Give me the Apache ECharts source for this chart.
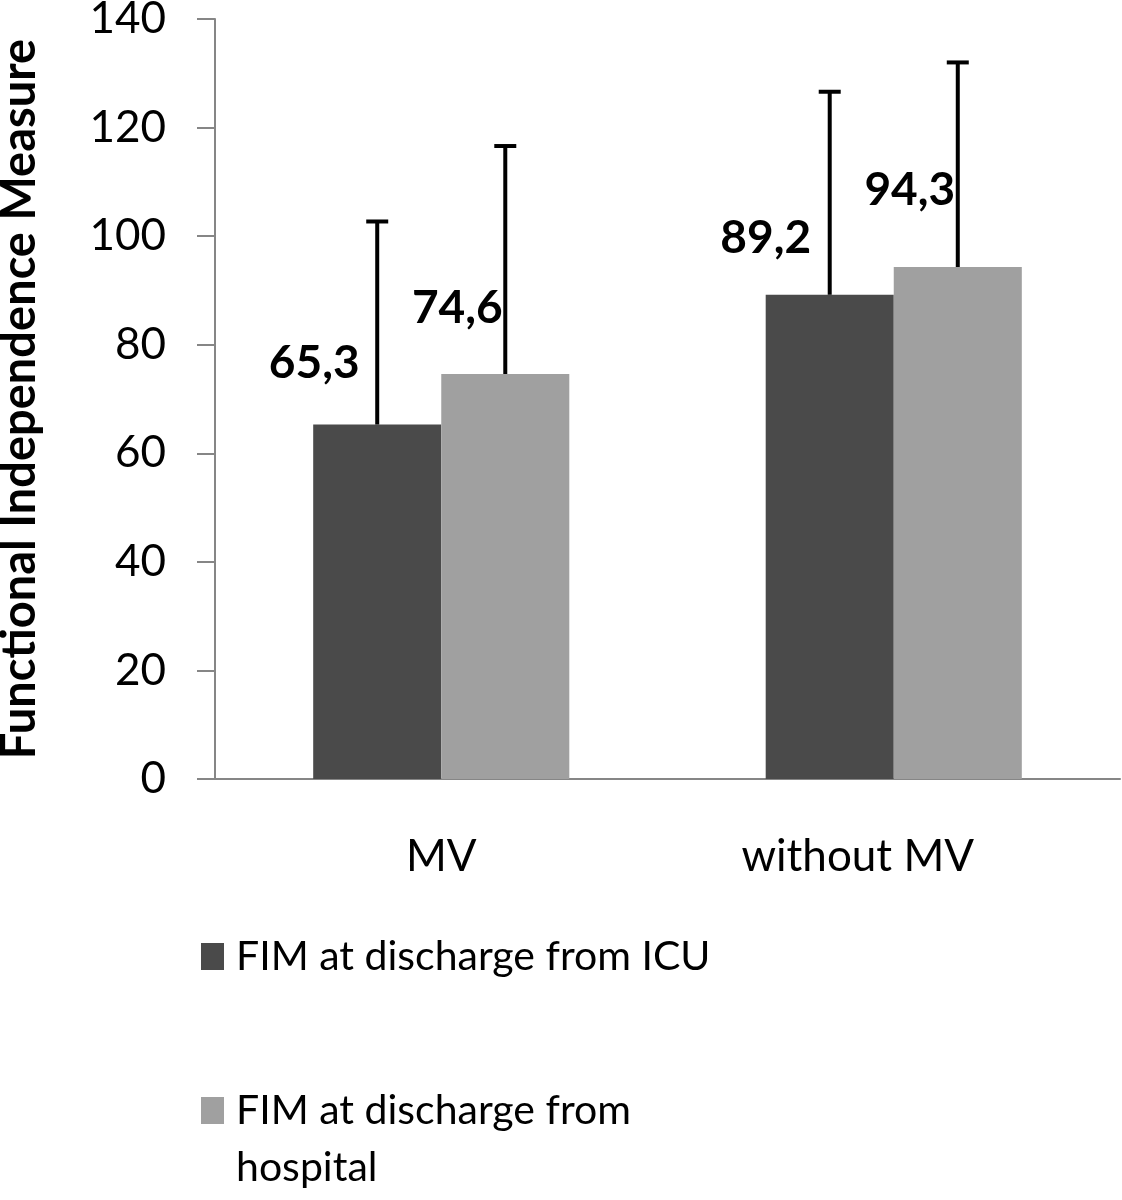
<!DOCTYPE html>
<html>
<head>
<meta charset="utf-8">
<script src="https://cdn.jsdelivr.net/npm/echarts@6/dist/echarts.min.js"></script>
<style>html,body{margin:0;padding:0;background:#fff;}#c{width:1122px;height:1200px;}</style>
</head>
<body>
<div id="c"></div>
<script>
var categories = ['MV', 'without MV'];
var seriesNames = ['FIM at discharge from ICU', 'FIM at discharge from hospital'];
var icuValues = [65.3, 89.2];
var hospitalValues = [74.6, 94.3];
var icuSD = [37.4, 37.4];
var hospitalSD = [42.0, 37.7];
var yTicks = [0, 20, 40, 60, 80, 100, 120, 140];

var FONT = 'Lato';
var BAR_RATIO = 0.283;
var DARK = '#4a4a4a', LIGHT = '#a0a0a0', AXIS = '#868686';

function errData(vals, sds) {
  return vals.map(function (v, i) { return [i, v + sds[i], v]; });
}
function errSeries(vals, sds, idx) {
  return {
    type: 'custom',
    z: 10,
    silent: true,
    data: errData(vals, sds),
    renderItem: function (params, api) {
      var cat = api.value(0);
      var top = api.coord([cat, api.value(1)]);
      var base = api.coord([cat, api.value(2)]);
      var bw = api.size([1, 0])[0] * BAR_RATIO;
      var x = top[0] + (idx - 0.5) * bw;
      var cap = 11;
      var st = { stroke: '#000', lineWidth: 4 };
      return {
        type: 'group',
        children: [
          { type: 'line', shape: { x1: x, y1: base[1], x2: x, y2: top[1] }, style: st },
          { type: 'line', shape: { x1: x - cap, y1: top[1], x2: x + cap, y2: top[1] }, style: st }
        ]
      };
    }
  };
}
function barData(vals, offsets) {
  return vals.map(function (v, i) {
    return { value: v, label: { offset: offsets[i] } };
  });
}

var legendText = {
  fontFamily: FONT, fontSize: 41, color: '#000', lineHeight: 57,
  rich: { t: { fontFamily: FONT, fontSize: 41, color: '#000', lineHeight: 57, padding: [0, 0, 0, 7] } }
};

var chart = echarts.init(document.getElementById('c'), null, { renderer: 'canvas' });
chart.setOption({
  animation: false,
  backgroundColor: '#fff',
  grid: { left: 215, right: 2, top: 19, bottom: 421, containLabel: false, outerBoundsMode: 'none' },
  legend: [
    {
      data: [seriesNames[0]],
      orient: 'vertical', left: 201, top: 928, padding: 0,
      itemWidth: 23, itemHeight: 27, itemGap: 10,
      icon: 'rect',
      formatter: function (n) { return '{t|' + n + '}'; },
      textStyle: legendText,
      selectedMode: false
    },
    {
      data: [seriesNames[1]],
      orient: 'vertical', left: 201, top: 1025, padding: 0,
      itemWidth: 23, itemHeight: 27, itemGap: 10,
      icon: 'rect',
      formatter: function (n) { return '\n{t|FIM at discharge from}\n{t|hospital}'; },
      textStyle: legendText,
      selectedMode: false
    }
  ],
  xAxis: {
    type: 'category',
    data: categories,
    axisLine: { lineStyle: { color: AXIS, width: 2 } },
    axisTick: { show: false },
    axisLabel: {
      fontFamily: FONT, fontSize: 44, color: '#000', margin: 56,
      formatter: function (v) { return v === 'without MV' ? '{s|' + v + '}' : v; },
      rich: { s: { fontFamily: FONT, fontSize: 44, color: '#000', padding: [0, 72, 0, 0] } }
    }
  },
  yAxis: {
    type: 'value',
    min: yTicks[0], max: yTicks[yTicks.length - 1], interval: 20,
    name: 'Functional Independence Measure',
    nameLocation: 'middle',
    nameGap: 172,
    nameTextStyle: { fontFamily: FONT, fontSize: 47, fontWeight: 'bold', color: '#000' },
    axisLine: { show: true, lineStyle: { color: AXIS, width: 2 } },
    axisTick: { show: true, inside: false, length: 18, lineStyle: { color: AXIS, width: 2 } },
    splitLine: { show: false },
    axisLabel: { fontFamily: FONT, fontSize: 44, color: '#000', margin: 49 }
  },
  series: [
    {
      name: seriesNames[0], type: 'bar', barWidth: (BAR_RATIO * 100) + '%', barGap: '0%',
      itemStyle: { color: DARK },
      data: barData(icuValues, [[-63, -61], [-64, -57]]),
      label: {
        show: true, position: 'top', distance: 0, verticalAlign: 'middle', align: 'center',
        fontFamily: FONT, fontSize: 46, fontWeight: 'bold', color: '#000',
        formatter: function (p) { return String(p.value).replace('.', ','); }
      }
    },
    {
      name: seriesNames[1], type: 'bar', barWidth: (BAR_RATIO * 100) + '%', barGap: '0%',
      itemStyle: { color: LIGHT },
      data: barData(hospitalValues, [[-48, -66], [-48, -77]]),
      label: {
        show: true, position: 'top', distance: 0, verticalAlign: 'middle', align: 'center',
        fontFamily: FONT, fontSize: 46, fontWeight: 'bold', color: '#000',
        formatter: function (p) { return String(p.value).replace('.', ','); }
      }
    },
    errSeries(icuValues, icuSD, 0),
    errSeries(hospitalValues, hospitalSD, 1)
  ]
});
</script>
</body>
</html>
